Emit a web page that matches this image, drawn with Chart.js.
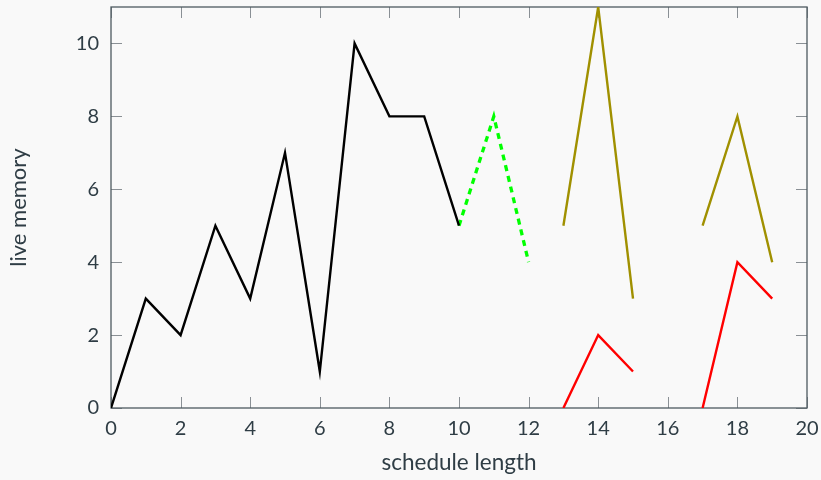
<!DOCTYPE html>
<html>
<head>
<meta charset="utf-8">
<script src="https://cdn.jsdelivr.net/npm/chart.js@4.4.1/dist/chart.umd.min.js"></script>
<style>
  html, body { margin: 0; padding: 0; background: #f9f9f9; }
  #wrap { width: 821px; height: 480px; }
</style>
</head>
<body>
<div id="wrap"><canvas id="chart" width="821" height="480"></canvas></div>
<script>
(function () {
    "use strict";

    // schedule length positions
    var steps = [0, 1, 2, 3, 4, 5, 6, 7, 8, 9, 10, 11, 12, 13, 14, 15, 16, 17, 18, 19];

    // live memory per series (null = no value)
    var blackValues = [0, 3, 2, 5, 3, 7, 1, 10, 8, 8, 5, null, null, null, null, null, null, null, null, null];
    var greenValues = [null, null, null, null, null, null, null, null, null, null, 5, 8, 4, null, null, null, null, null, null, null];
    var oliveValues = [null, null, null, null, null, null, null, null, null, null, null, null, null, 5, 11, 3, null, 5, 8, 4];
    var redValues   = [null, null, null, null, null, null, null, null, null, null, null, null, null, 0, 2, 1, null, 0, 4, 3];

    var xTicks = [0, 2, 4, 6, 8, 10, 12, 14, 16, 18, 20];
    var yTicks = [0, 2, 4, 6, 8, 10];

    var textColor = '#2f3d45';
    var frameColor = '#4e5a60';
    var tickColor = '#8a9095';

    var toPoints = function (values) {
        return steps.map(function (x, i) {
            return { x: x, y: values[i] };
        });
    };

    var makeSet = function (values, color, dash) {
        return {
            data: toPoints(values),
            borderColor: color,
            borderWidth: dash ? 3.3 : 2.4,
            borderDash: dash || [],
            pointRadius: 0,
            tension: 0,
            spanGaps: false,
            fill: false
        };
    };

    // ticks pointing inwards on all four sides, plus the frame
    var frameTicks = {
        id: 'frameTicks',
        beforeDatasetsDraw: function (chart) {
            var ctx = chart.ctx;
            var a = chart.chartArea;
            var xs = chart.scales.x;
            var ys = chart.scales.y;
            var len = 11;
            ctx.save();
            ctx.strokeStyle = tickColor;
            ctx.lineWidth = 1;
            ctx.beginPath();
            xTicks.forEach(function (v) {
                var px = Math.round(xs.getPixelForValue(v)) + 0.5;
                ctx.moveTo(px, a.bottom);
                ctx.lineTo(px, a.bottom - len);
                ctx.moveTo(px, a.top);
                ctx.lineTo(px, a.top + len);
            });
            yTicks.forEach(function (v) {
                var py = Math.round(ys.getPixelForValue(v)) + 0.5;
                ctx.moveTo(a.left, py);
                ctx.lineTo(a.left + len, py);
                ctx.moveTo(a.right, py);
                ctx.lineTo(a.right - len, py);
            });
            ctx.stroke();
            ctx.strokeStyle = frameColor;
            ctx.lineWidth = 1.3;
            ctx.strokeRect(a.left, a.top, a.right - a.left, a.bottom - a.top);
            ctx.restore();
        }
    };

    var ctx = document.getElementById('chart').getContext('2d');

    new Chart(ctx, {
        type: 'line',
        data: {
            datasets: [
                makeSet(blackValues, '#000000'),
                makeSet(greenValues, '#00ff00', [6, 5]),
                makeSet(oliveValues, '#a09000'),
                makeSet(redValues, '#ff0000')
            ]
        },
        options: {
            responsive: false,
            animation: false,
            layout: { padding: { top: 7, right: 14, left: 0, bottom: 0 } },
            plugins: {
                legend: { display: false },
                tooltip: { enabled: false }
            },
            scales: {
                x: {
                    type: 'linear',
                    min: 0,
                    max: 20,
                    afterFit: function (scale) {
                        scale.height = 72;
                        scale.paddingLeft = 0;
                        scale.paddingRight = 0;
                    },
                    afterBuildTicks: function (scale) {
                        scale.ticks = xTicks.map(function (v) { return { value: v }; });
                    },
                    grid: { display: false, drawTicks: false },
                    border: { display: false },
                    ticks: {
                        color: textColor,
                        padding: 9,
                        maxRotation: 0,
                        font: { family: 'Lato', size: 20 }
                    },
                    title: {
                        display: true,
                        text: 'schedule length',
                        color: textColor,
                        padding: { top: 12 },
                        font: { family: 'Lato', size: 22.5 }
                    }
                },
                y: {
                    min: 0,
                    max: 11,
                    afterFit: function (scale) {
                        scale.width = 111;
                        scale.paddingTop = 0;
                        scale.paddingBottom = 0;
                    },
                    afterBuildTicks: function (scale) {
                        scale.ticks = yTicks.map(function (v) { return { value: v }; });
                    },
                    grid: { display: false, drawTicks: false },
                    border: { display: false },
                    ticks: {
                        color: textColor,
                        padding: 12,
                        font: { family: 'Lato', size: 20 }
                    },
                    title: {
                        display: true,
                        text: 'live memory',
                        color: textColor,
                        padding: { bottom: 0, top: 6 },
                        font: { family: 'Lato', size: 22 }
                    }
                }
            }
        },
        plugins: [frameTicks]
    });
}());
</script>
</body>
</html>
